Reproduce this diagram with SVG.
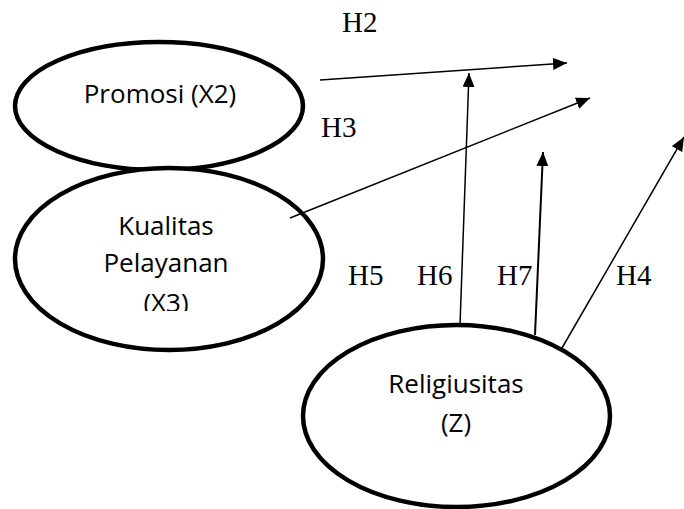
<svg xmlns="http://www.w3.org/2000/svg" width="684" height="509" viewBox="0 0 684 509">
<style>
.node{fill:#fff;stroke:#000;stroke-width:4.5}
.lbl{font-family:"Open Sans","Noto Sans",sans-serif;font-size:26px;fill:#000;text-anchor:middle}
.h{font-family:"Liberation Serif","Times New Roman",serif;font-size:29px;fill:#000}
.conn{stroke:#000;stroke-width:1.5;fill:none;marker-end:url(#ah)}
</style>
<defs>
<marker id="ah" viewBox="0 0 14 12" refX="14" refY="6" markerWidth="14" markerHeight="12" markerUnits="userSpaceOnUse" orient="auto"><path d="M0,0 L14,6 L0,12 z" fill="#000"/></marker>
<clipPath id="kclip"><rect x="0" y="0" width="684" height="311"/></clipPath>
</defs>
<g id="promosi">
<ellipse class="node" cx="159" cy="106" rx="144" ry="64"/>
<text class="lbl" x="160" y="103">Promosi (X2)</text>
</g>
<g id="kualitas">
<ellipse class="node" cx="169" cy="259" rx="154" ry="91"/>
<g clip-path="url(#kclip)">
<text class="lbl" x="166" y="235">Kualitas</text>
<text class="lbl" x="166" y="272">Pelayanan</text>
<text class="lbl" x="166" y="312">(X3)</text>
</g>
</g>
<g id="religiusitas">
<ellipse class="node" cx="456.5" cy="416" rx="153.5" ry="91"/>
<text class="lbl" x="456" y="393">Religiusitas</text>
<text class="lbl" x="456" y="432">(Z)</text>
</g>
<g id="connectors">
<line class="conn" x1="320" y1="80" x2="567" y2="63"/>
<line class="conn" x1="290" y1="218" x2="590" y2="98"/>
<line class="conn" x1="460" y1="325" x2="469" y2="73"/>
<line class="conn" x1="535" y1="335" x2="543" y2="152" style="stroke-width:2"/>
<line class="conn" x1="562" y1="348" x2="684" y2="137"/>
</g>
<g id="labels">
<text class="h" x="342" y="32">H2</text>
<text class="h" x="321" y="137">H3</text>
<text class="h" x="348" y="285">H5</text>
<text class="h" x="417" y="285">H6</text>
<text class="h" x="497" y="285">H7</text>
<text class="h" x="616" y="285">H4</text>
</g>
</svg>
